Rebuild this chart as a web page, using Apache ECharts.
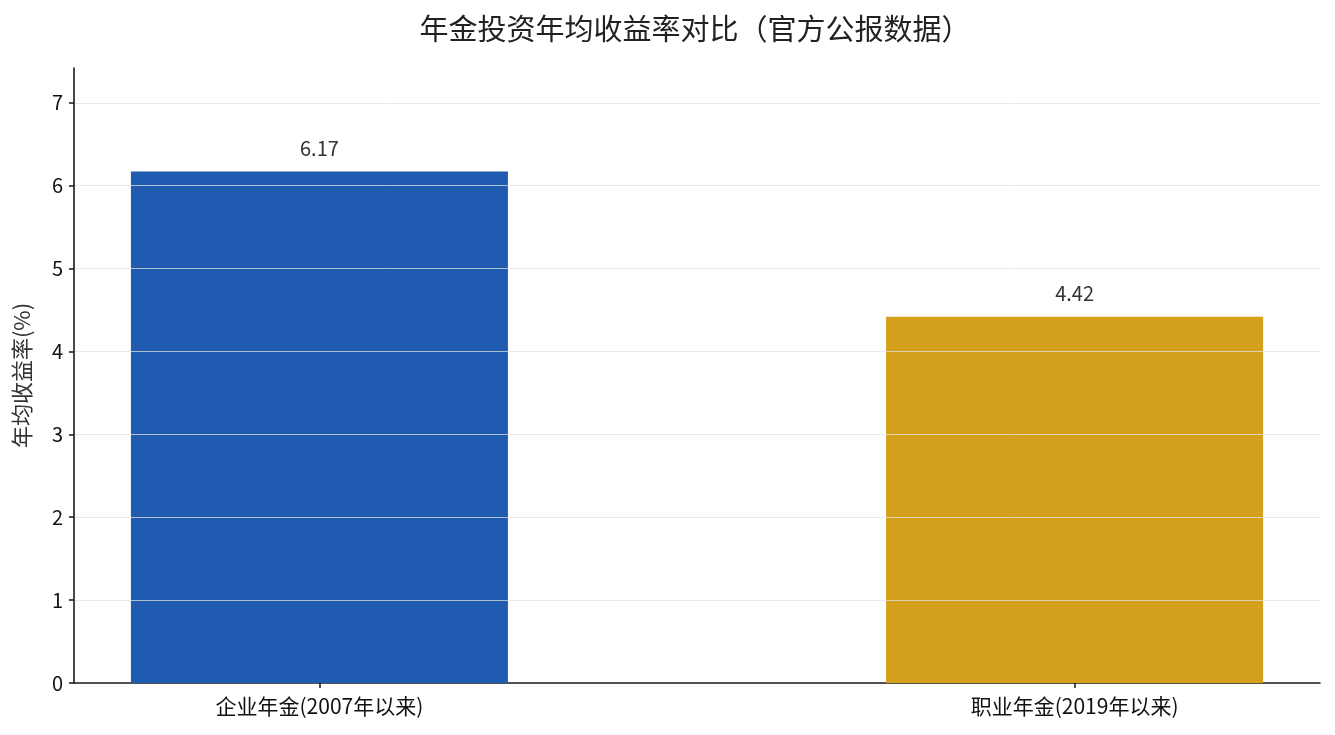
<!DOCTYPE html>
<html>
<head>
<meta charset="utf-8">
<script src="https://cdn.jsdelivr.net/npm/echarts@6/dist/echarts.min.js"></script>
<style>html,body{margin:0;padding:0;background:#fff;}#c{width:1335px;height:735px;}</style>
</head>
<body>
<div id="c"></div>
<script>
const categories = ['企业年金(2007年以来)', '职业年金(2019年以来)'];
const values = [6.17, 4.42];
const colors = ['#1f5bb0', '#d4a01b'];
const yTicks = [0, 1, 2, 3, 4, 5, 6, 7];

const FONT = '"Noto Sans CJK SC", "Noto Sans", sans-serif';
const chart = echarts.init(document.getElementById('c'));
chart.setOption({
  backgroundColor: '#fff',
  animation: false,
  textStyle: { fontFamily: FONT },
  title: {
    text: '年金投资年均收益率对比（官方公报数据）',
    left: 690, textAlign: 'center', top: 9,
    textStyle: { fontFamily: FONT, fontSize: 29, fontWeight: 'normal', color: '#222' }
  },
  grid: { left: 74, right: 15, top: 68, bottom: 52 },
  xAxis: {
    type: 'value', min: -0.325, max: 1.325,
    splitLine: { show: false },
    axisLine: { onZero: false, lineStyle: { color: '#1a1a1a', width: 1.6 } },
    axisTick: { show: true, customValues: [0, 1], length: 5, lineStyle: { color: '#1a1a1a', width: 1.5 } },
    axisLabel: {
      customValues: [0, 1], margin: 13,
      formatter: v => categories[Math.round(v)] || '',
      fontFamily: FONT, fontSize: 21, color: '#111'
    }
  },
  yAxis: {
    type: 'value', min: 0, max: 7.42, interval: 1, z: 10,
    name: '年均收益率(%)', nameLocation: 'middle', nameGap: 41,
    nameTextStyle: { fontFamily: FONT, fontSize: 22, color: '#333' },
    axisLine: { show: true, onZero: false, lineStyle: { color: '#1a1a1a', width: 1.6 } },
    axisTick: { show: true, customValues: yTicks, length: 5, lineStyle: { color: '#1a1a1a', width: 1.5 } },
    axisLabel: {
      customValues: yTicks, margin: 11,
      fontFamily: FONT, fontSize: 20, color: '#111'
    },
    splitLine: { show: true, showMinLine: false, showMaxLine: true, lineStyle: { color: 'rgba(225,225,225,0.75)', width: 1 } }
  },
  series: [{
    type: 'bar',
    barWidth: 377,
    data: values.map((v, i) => ({ value: [i, v], itemStyle: { color: colors[i] } })),
    label: {
      show: true, position: 'top', distance: 13,
      formatter: p => p.value[1].toFixed(2),
      fontFamily: FONT, fontSize: 20, color: '#333'
    }
  }]
});
</script>
</body>
</html>
